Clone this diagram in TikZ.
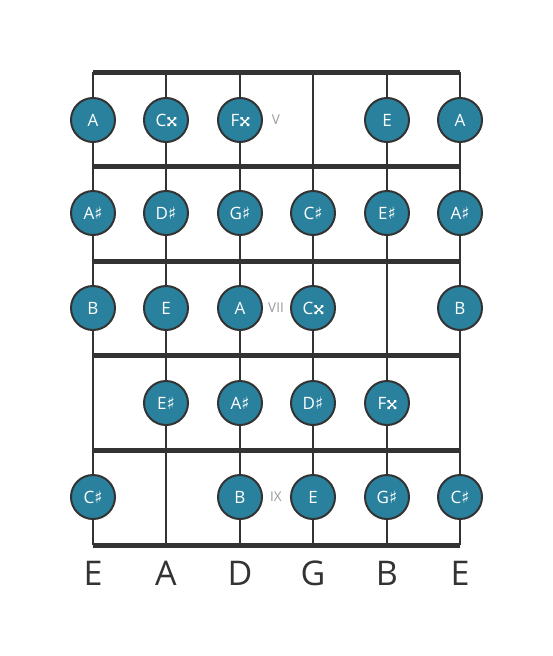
\documentclass[tikz,border=0pt]{standalone}
\usepackage{fontspec}
\setmainfont{Open Sans}
\newfontfamily\symfont{DejaVu Sans}
\newcommand{\shp}{{\symfont ♯}}
% double sharp drawn as a shape (no installed font has the glyph)
\newcommand{\dsh}{\hspace{1pt}\tikz[baseline=0pt, x=1pt, y=1pt]{
  \draw[white, line width=1.3pt] (0.8,0.8) -- (8.2,8.2) (0.8,8.2) -- (8.2,0.8);
  \fill[white] (0,0) rectangle (2.4,2.4) (6.6,0) rectangle (9,2.4)
    (0,6.6) rectangle (2.4,9) (6.6,6.6) rectangle (9,9);}}
\definecolor{notefill}{HTML}{2A819E}
\definecolor{lineclr}{HTML}{333333}
\definecolor{fretlbl}{HTML}{999999}

\begin{document}
\begin{tikzpicture}[x=1pt, y=-1pt,
  note/.style={circle, draw=lineclr, line width=2pt, fill=notefill, minimum size=44pt, inner sep=0pt, text=white, font=\fontsize{17}{17}\selectfont},
  fretline/.style={draw=lineclr, line width=5pt},
  stringline/.style={draw=lineclr, line width=2.5pt},
  fretno/.style={text=fretlbl, font=\fontsize{13.5}{13.5}\selectfont},
  openstr/.style={text=lineclr, font=\fontsize{34}{34}\selectfont}]
  \useasboundingbox (0,0) rectangle (553,656);

  % Strings
  \foreach \s/\x in {1/93, 2/166, 3/240, 4/313, 5/387, 6/460} {
    \coordinate (top\s) at (\x,72);
    \coordinate (bot\s) at (\x,545);
    \draw[stringline] (top\s) -- (bot\s);
  }

  % Frets
  \foreach \f/\y in {0/72, 1/166, 2/261, 3/355, 4/450, 5/545} {
    \draw[fretline] (93,\y) -- (460,\y);
  }

  % Fret 5
  \node[note] (r1s1) at (93,120)  {A};
  \node[note] (r1s2) at (166,120) {C\dsh};
  \node[note] (r1s3) at (240,120) {F\dsh};
  \node[note] (r1s5) at (387,120) {E};
  \node[note] (r1s6) at (460,120) {A};
  \node[fretno] (fv) at (276,120) {V};

  % Fret 6
  \node[note] (r2s1) at (93,213)  {A\shp};
  \node[note] (r2s2) at (166,213) {D\shp};
  \node[note] (r2s3) at (240,213) {G\shp};
  \node[note] (r2s4) at (313,213) {C\shp};
  \node[note] (r2s5) at (387,213) {E\shp};
  \node[note] (r2s6) at (460,213) {A\shp};

  % Fret 7
  \node[note] (r3s1) at (93,308)  {B};
  \node[note] (r3s2) at (166,308) {E};
  \node[note] (r3s3) at (240,308) {A};
  \node[note] (r3s4) at (313,308) {C\dsh};
  \node[note] (r3s6) at (460,308) {B};
  \node[fretno] (fvii) at (276,308) {VII};

  % Fret 8
  \node[note] (r4s2) at (166,403) {E\shp};
  \node[note] (r4s3) at (240,403) {A\shp};
  \node[note] (r4s4) at (313,403) {D\shp};
  \node[note] (r4s5) at (387,403) {F\dsh};

  % Fret 9
  \node[note] (r5s1) at (93,497)  {C\shp};
  \node[note] (r5s3) at (240,497) {B};
  \node[note] (r5s4) at (313,497) {E};
  \node[note] (r5s5) at (387,497) {G\shp};
  \node[note] (r5s6) at (460,497) {C\shp};
  \node[fretno] (fix) at (276,497) {IX};

  % Open strings
  \foreach \s/\x/\n in {1/93/E, 2/166/A, 3/240/D, 4/313/G, 5/387/B, 6/460/E} {
    \node[openstr] (open\s) at (\x,573) {\n};
  }
\end{tikzpicture}
\end{document}
